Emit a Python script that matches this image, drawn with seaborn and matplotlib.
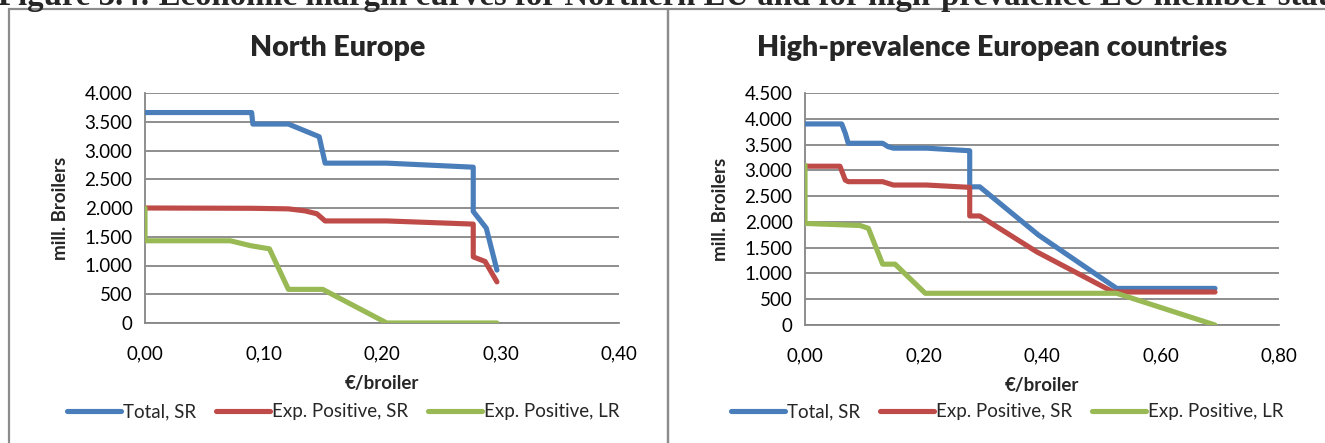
import matplotlib
matplotlib.use("Agg")
import matplotlib.pyplot as plt
from matplotlib.patches import Rectangle
from matplotlib.lines import Line2D
from matplotlib.ticker import FuncFormatter, MultipleLocator
import numpy as np
import pandas as pd
import seaborn as sns

# ---- data -------------------------------------------------------------
series_names = ["Total, SR", "Exp. Positive, SR", "Exp. Positive, LR"]
series_colors = ["#4A7EBB", "#BE4B48", "#98B954"]

# North Europe
ne_total_x = [0.000, 0.090, 0.091, 0.121, 0.147, 0.152, 0.204, 0.277, 0.277, 0.288, 0.297]
ne_total_y = [3660, 3660, 3460, 3460, 3240, 2780, 2780, 2710, 1940, 1650, 920]
ne_sr_x = [0.000, 0.090, 0.121, 0.135, 0.145, 0.152, 0.204, 0.277, 0.277, 0.287, 0.297]
ne_sr_y = [2000, 1995, 1985, 1950, 1900, 1775, 1775, 1720, 1150, 1070, 715]
ne_lr_x = [0.000, 0.000, 0.072, 0.089, 0.105, 0.121, 0.150, 0.204, 0.297]
ne_lr_y = [2000, 1430, 1430, 1345, 1290, 585, 585, 0, 0]

# High-prevalence European countries
hp_total_x = [0.000, 0.062, 0.068, 0.073, 0.131, 0.140, 0.149, 0.205, 0.278, 0.278, 0.295, 0.394, 0.526, 0.692]
hp_total_y = [3900, 3900, 3720, 3525, 3525, 3460, 3430, 3430, 3380, 2680, 2680, 1745, 710, 710]
hp_sr_x = [0.000, 0.059, 0.068, 0.073, 0.131, 0.149, 0.205, 0.278, 0.278, 0.295, 0.391, 0.520, 0.692]
hp_sr_y = [3080, 3080, 2810, 2780, 2780, 2715, 2715, 2670, 2115, 2115, 1420, 640, 640]
hp_lr_x = [0.000, 0.000, 0.093, 0.107, 0.131, 0.152, 0.203, 0.526, 0.692]
hp_lr_y = [3100, 1970, 1930, 1875, 1180, 1180, 615, 615, 0]

panel_titles = ["North Europe", "High-prevalence European countries"]
x_label = "€/broiler"
y_label = "mill. Broilers"
fig_title = ("Figure 3.4: Economic margin curves for Northern EU and for "
             "high-prevalence EU member states")


def to_frame(xs, ys):
    parts = []
    for name, x, y in zip(series_names, xs, ys):
        parts.append(pd.DataFrame({"x": x, "y": y, "series": name,
                                   "order": np.arange(len(x))}))
    return pd.concat(parts, ignore_index=True)


ne_df = to_frame([ne_total_x, ne_sr_x, ne_lr_x], [ne_total_y, ne_sr_y, ne_lr_y])
hp_df = to_frame([hp_total_x, hp_sr_x, hp_lr_x], [hp_total_y, hp_sr_y, hp_lr_y])

# ---- style ------------------------------------------------------------
sns.set_theme(style="white")
plt.rcParams["font.family"] = ["Lato", "DejaVu Sans"]
GRID = "#868686"
W, H = 1325, 443

fig = plt.figure(figsize=(W / 100, H / 100), dpi=100)


def px_axes(left, top, right, bottom):
    return fig.add_axes([left / W, 1 - bottom / H, (right - left) / W, (bottom - top) / H])


ax_ne = px_axes(145, 93, 619, 323)
ax_hp = px_axes(805, 93, 1279, 325)

panels = [
    (ax_ne, ne_df, (0, 0.40), 0.10, (0, 4000), 500, 343),
    (ax_hp, hp_df, (0, 0.80), 0.20, (0, 4500), 500, 1007),
]

palette = dict(zip(series_names, series_colors))

for ax, df, xlim, xstep, ylim, ystep, legend_cx in panels:
    sns.lineplot(data=df, x="x", y="y", hue="series", units="series",
                 estimator=None, sort=False, palette=palette,
                 linewidth=3.7, legend=False, ax=ax,
                 solid_capstyle="round", solid_joinstyle="round", zorder=3)
    ax.set_xlim(*xlim)
    ax.set_ylim(*ylim)
    ax.xaxis.set_major_locator(MultipleLocator(xstep))
    ax.yaxis.set_major_locator(MultipleLocator(ystep))
    ax.xaxis.set_major_formatter(FuncFormatter(lambda v, p: f"{v:.2f}".replace(".", ",")))
    ax.yaxis.set_major_formatter(FuncFormatter(lambda v, p: f"{v:,.0f}".replace(",", ".")))
    ax.grid(axis="y", color=GRID, linewidth=1.3)
    ax.grid(axis="x", visible=False)
    ax.set_axisbelow(True)
    for side in ("top", "right"):
        ax.spines[side].set_visible(False)
    for side in ("left", "bottom"):
        ax.spines[side].set_color(GRID)
        ax.spines[side].set_linewidth(1.3)
    ax.tick_params(axis="both", which="major", direction="out", length=5,
                   width=1.3, color=GRID, labelsize=13.5, labelcolor="black")
    ax.tick_params(axis="x", pad=11)
    ax.tick_params(axis="y", pad=4)
    ax.set_xlabel(x_label, fontsize=13.5, fontweight="bold", labelpad=9)
    ax.set_ylabel(y_label, fontsize=13.5, fontweight="bold", labelpad=11)
    handles = [Line2D([0], [0], color=c, linewidth=3.7, solid_capstyle="round")
               for c in series_colors]
    ax.legend(handles, series_names, loc="center",
              bbox_to_anchor=(legend_cx / W, 1 - 412 / H),
              bbox_transform=fig.transFigure, ncol=3,
              frameon=False, fontsize=13.5, handlelength=2.9, handletextpad=0.1,
              columnspacing=1.05, borderaxespad=0, borderpad=0)

# panel titles
title_kw = dict(ha="center", va="center", fontsize=20.5, fontweight="heavy")
fig.text(338 / W, 1 - 48 / H, panel_titles[0], **title_kw)
fig.text(992 / W, 1 - 48 / H, panel_titles[1], **title_kw)

# chart area frames
frame_kw = dict(transform=fig.transFigure, fill=False, edgecolor="#8C8C8C",
                linewidth=1.6, clip_on=False)
fig.add_artist(Rectangle((9 / W, -0.1), (668 - 9) / W, 1.1 - 9 / H, **frame_kw))
fig.add_artist(Rectangle((668 / W, -0.1), 0.5, 1.1 - 9 / H, **frame_kw))

# document caption running off the top edge
fig.text(-2 / W, 1 - 5 / H, fig_title, ha="left", va="baseline",
         fontsize=23.6, fontweight="bold", family=["Liberation Serif", "DejaVu Serif"])

fig.savefig("out.png", dpi=100, facecolor="white")
